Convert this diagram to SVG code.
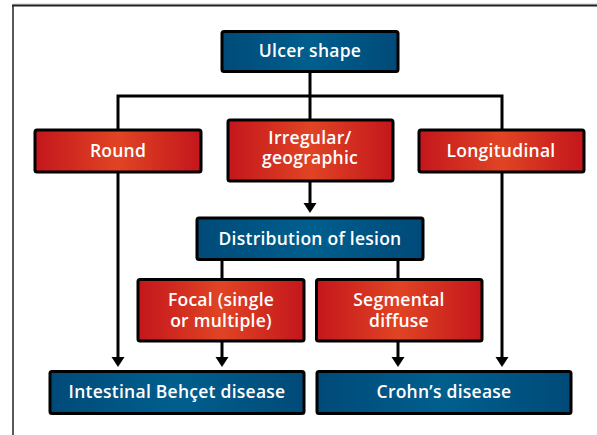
<svg xmlns="http://www.w3.org/2000/svg" width="597" height="435" viewBox="0 0 597 435">
<defs>
<linearGradient id="red" x1="0" y1="0" x2="1" y2="0">
<stop offset="0" stop-color="#c4161c"/>
<stop offset="0.5" stop-color="#e04424"/>
<stop offset="1" stop-color="#c4161c"/>
</linearGradient>
<linearGradient id="blue" x1="0" y1="0" x2="1" y2="0">
<stop offset="0" stop-color="#004a78"/>
<stop offset="0.5" stop-color="#005f8e"/>
<stop offset="1" stop-color="#004a78"/>
</linearGradient>
<style>
.red rect{fill:url(#red);stroke:#000;stroke-width:3}
.blue rect{fill:url(#blue);stroke:#000;stroke-width:3}
text{font-family:"Open Sans","Liberation Sans",sans-serif;font-weight:600;font-size:17.5px;letter-spacing:0.25px;fill:#fff;text-anchor:middle}
.conn line,.conn path{stroke:#000;stroke-width:3;fill:none}
.conn .head{stroke:none;fill:#000}
</style>
</defs>
<rect x="0" y="0" width="597" height="435" fill="#fff"/>
<line x1="13" y1="4" x2="597" y2="4" stroke="#c8c8c8" stroke-width="1"/>
<line x1="12" y1="5.5" x2="597" y2="5.5" stroke="#222" stroke-width="2"/>
<line x1="13" y1="5" x2="13" y2="435" stroke="#222" stroke-width="1.5"/>
<g class="conn">
<line x1="310" y1="72" x2="310" y2="120"/>
<path d="M118,130 V96 H502 V130"/>
<line x1="118" y1="172" x2="118" y2="358"/>
<line x1="502" y1="172" x2="502" y2="358"/>
<line x1="310" y1="181" x2="310" y2="205"/>
<line x1="222" y1="260" x2="222" y2="279"/>
<line x1="398" y1="260" x2="398" y2="279"/>
<line x1="222" y1="341" x2="222" y2="358"/>
<line x1="398" y1="341" x2="398" y2="358"/>
<path class="head" d="M111.5,357 L124.5,357 L118,367 Z"/>
<path class="head" d="M215.5,357 L228.5,357 L222,367 Z"/>
<path class="head" d="M391.5,357 L404.5,357 L398,367 Z"/>
<path class="head" d="M495.5,357 L508.5,357 L502,367 Z"/>
<path class="head" d="M303.5,203 L316.5,203 L310,213 Z"/>
</g>
<g id="ulcer-shape" class="blue"><rect x="222" y="31.5" width="176" height="40" rx="2"/><text x="310" y="57">Ulcer shape</text></g>
<g id="round" class="red"><rect x="35" y="130" width="166" height="42" rx="2"/><text x="118" y="157">Round</text></g>
<g id="irregular" class="red"><rect x="228" y="120" width="165" height="61" rx="2"/><text x="310" y="144">Irregular/</text><text x="310" y="163.5">geographic</text></g>
<g id="longitudinal" class="red"><rect x="419" y="130" width="165" height="42" rx="2"/><text x="501" y="157">Longitudinal</text></g>
<g id="distribution" class="blue"><rect x="197" y="218" width="226" height="41.5" rx="2"/><text x="310" y="244.5">Distribution of lesion</text></g>
<g id="focal" class="red"><rect x="138" y="279.5" width="166" height="61.5" rx="2"/><text x="221" y="306">Focal (single</text><text x="221" y="326.5">or multiple)</text></g>
<g id="segmental" class="red"><rect x="316.5" y="279.5" width="165.5" height="61.5" rx="2"/><text x="399" y="306">Segmental</text><text x="399" y="326.5">diffuse</text></g>
<g id="behcet" class="blue"><rect x="50" y="371.5" width="254" height="42" rx="2"/><text x="177" y="397.5">Intestinal Behçet disease</text></g>
<g id="crohn" class="blue"><rect x="317" y="371.5" width="254" height="42" rx="2"/><text x="444" y="397.5">Crohn’s disease</text></g>
</svg>
